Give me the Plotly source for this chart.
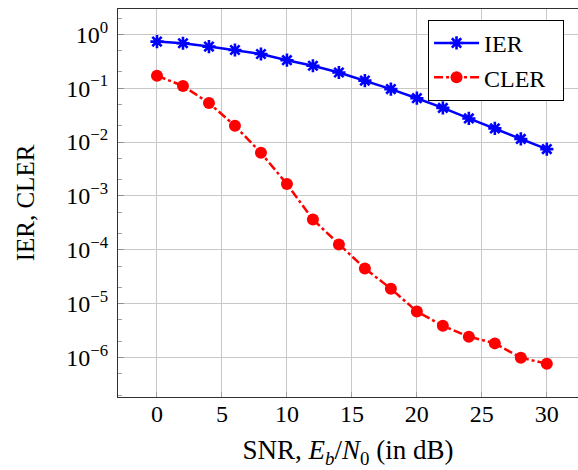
import plotly.graph_objects as go

snr = [0, 2, 4, 6, 8, 10, 12, 14, 16, 18, 20, 22, 24, 26, 28, 30]
ier = [0.73, 0.68, 0.59, 0.51, 0.43, 0.33, 0.26, 0.195, 0.138, 0.096,
       0.065, 0.043, 0.0274, 0.0179, 0.0114, 0.0074]
cler = [0.17, 0.11, 0.053, 0.020, 0.0063, 0.00166, 3.65e-4, 1.26e-4, 4.5e-5,
        1.9e-5, 7.2e-6, 3.9e-6, 2.45e-6, 1.84e-6, 1.0e-6, 7.7e-7]
y_tickvals = [1, 1e-1, 1e-2, 1e-3, 1e-4, 1e-5, 1e-6]
y_ticktext = ["10<sup>0</sup>", "10<sup>\u22121</sup>", "10<sup>\u22122</sup>",
              "10<sup>\u22123</sup>", "10<sup>\u22124</sup>", "10<sup>\u22125</sup>",
              "10<sup>\u22126</sup>"]
x_tickvals = [0, 5, 10, 15, 20, 25, 30]

font = "Liberation Serif, Times New Roman, serif"

fig = go.Figure()
fig.add_trace(go.Scatter(
    x=snr, y=ier, name="IER", mode="lines+markers",
    line=dict(color="#0000ff", width=2.5),
    marker=dict(symbol="asterisk-open", size=11, color="#0000ff",
                line=dict(color="#0000ff", width=2.6)),
))
fig.add_trace(go.Scatter(
    x=snr, y=cler, name="CLER\u00a0\u00a0", mode="lines+markers",
    line=dict(color="#ff0000", width=2.5, dash="dashdot"),
    marker=dict(symbol="circle", size=12, color="#ff0000"),
))

fig.update_layout(
    width=578, height=470, autosize=False,
    margin=dict(l=118, r=0, t=9, b=73, autoexpand=False),
    paper_bgcolor="white", plot_bgcolor="white",
    font=dict(family=font, size=24, color="black"),
    showlegend=True,
    legend=dict(x=0.674, y=0.972, xanchor="left", yanchor="top",
                bordercolor="black", borderwidth=1, bgcolor="white",
                font=dict(size=24, family=font), tracegroupgap=0,
                itemwidth=45),
)
fig.update_xaxes(
    range=[-3, 32.4], tickvals=x_tickvals,
    showgrid=True, gridcolor="#c8c8c8", gridwidth=1,
    showline=True, linecolor="#303030", linewidth=1.2, mirror=True,
    ticks="inside", ticklen=5, tickcolor="#a0a0a0", zeroline=False,
    tickfont=dict(size=24), ticklabelstandoff=-5,
    title=dict(text="SNR, <i>E</i><sub><i>b</i></sub>/<i>N</i><sub>0</sub> (in dB)",
               font=dict(size=27), standoff=14),
)
fig.update_yaxes(
    type="log", range=[-6.73, 0.468],
    tickvals=y_tickvals, ticktext=y_ticktext,
    showgrid=True, gridcolor="#c8c8c8", gridwidth=1,
    showline=True, linecolor="#303030", linewidth=1.2, mirror=True,
    ticks="inside", ticklen=6, tickcolor="#909090",
    minor=dict(ticks="inside", ticklen=4, tickcolor="#a0a0a0", showgrid=False),
    tickfont=dict(size=24), ticklabelstandoff=4,
    title=dict(text="IER, CLER", font=dict(size=25), standoff=24),
)

fig.write_html(
    "out.html",
    config={"displayModeBar": False},
    post_script="document.body.style.margin='0';document.body.style.overflow='hidden';",
)
